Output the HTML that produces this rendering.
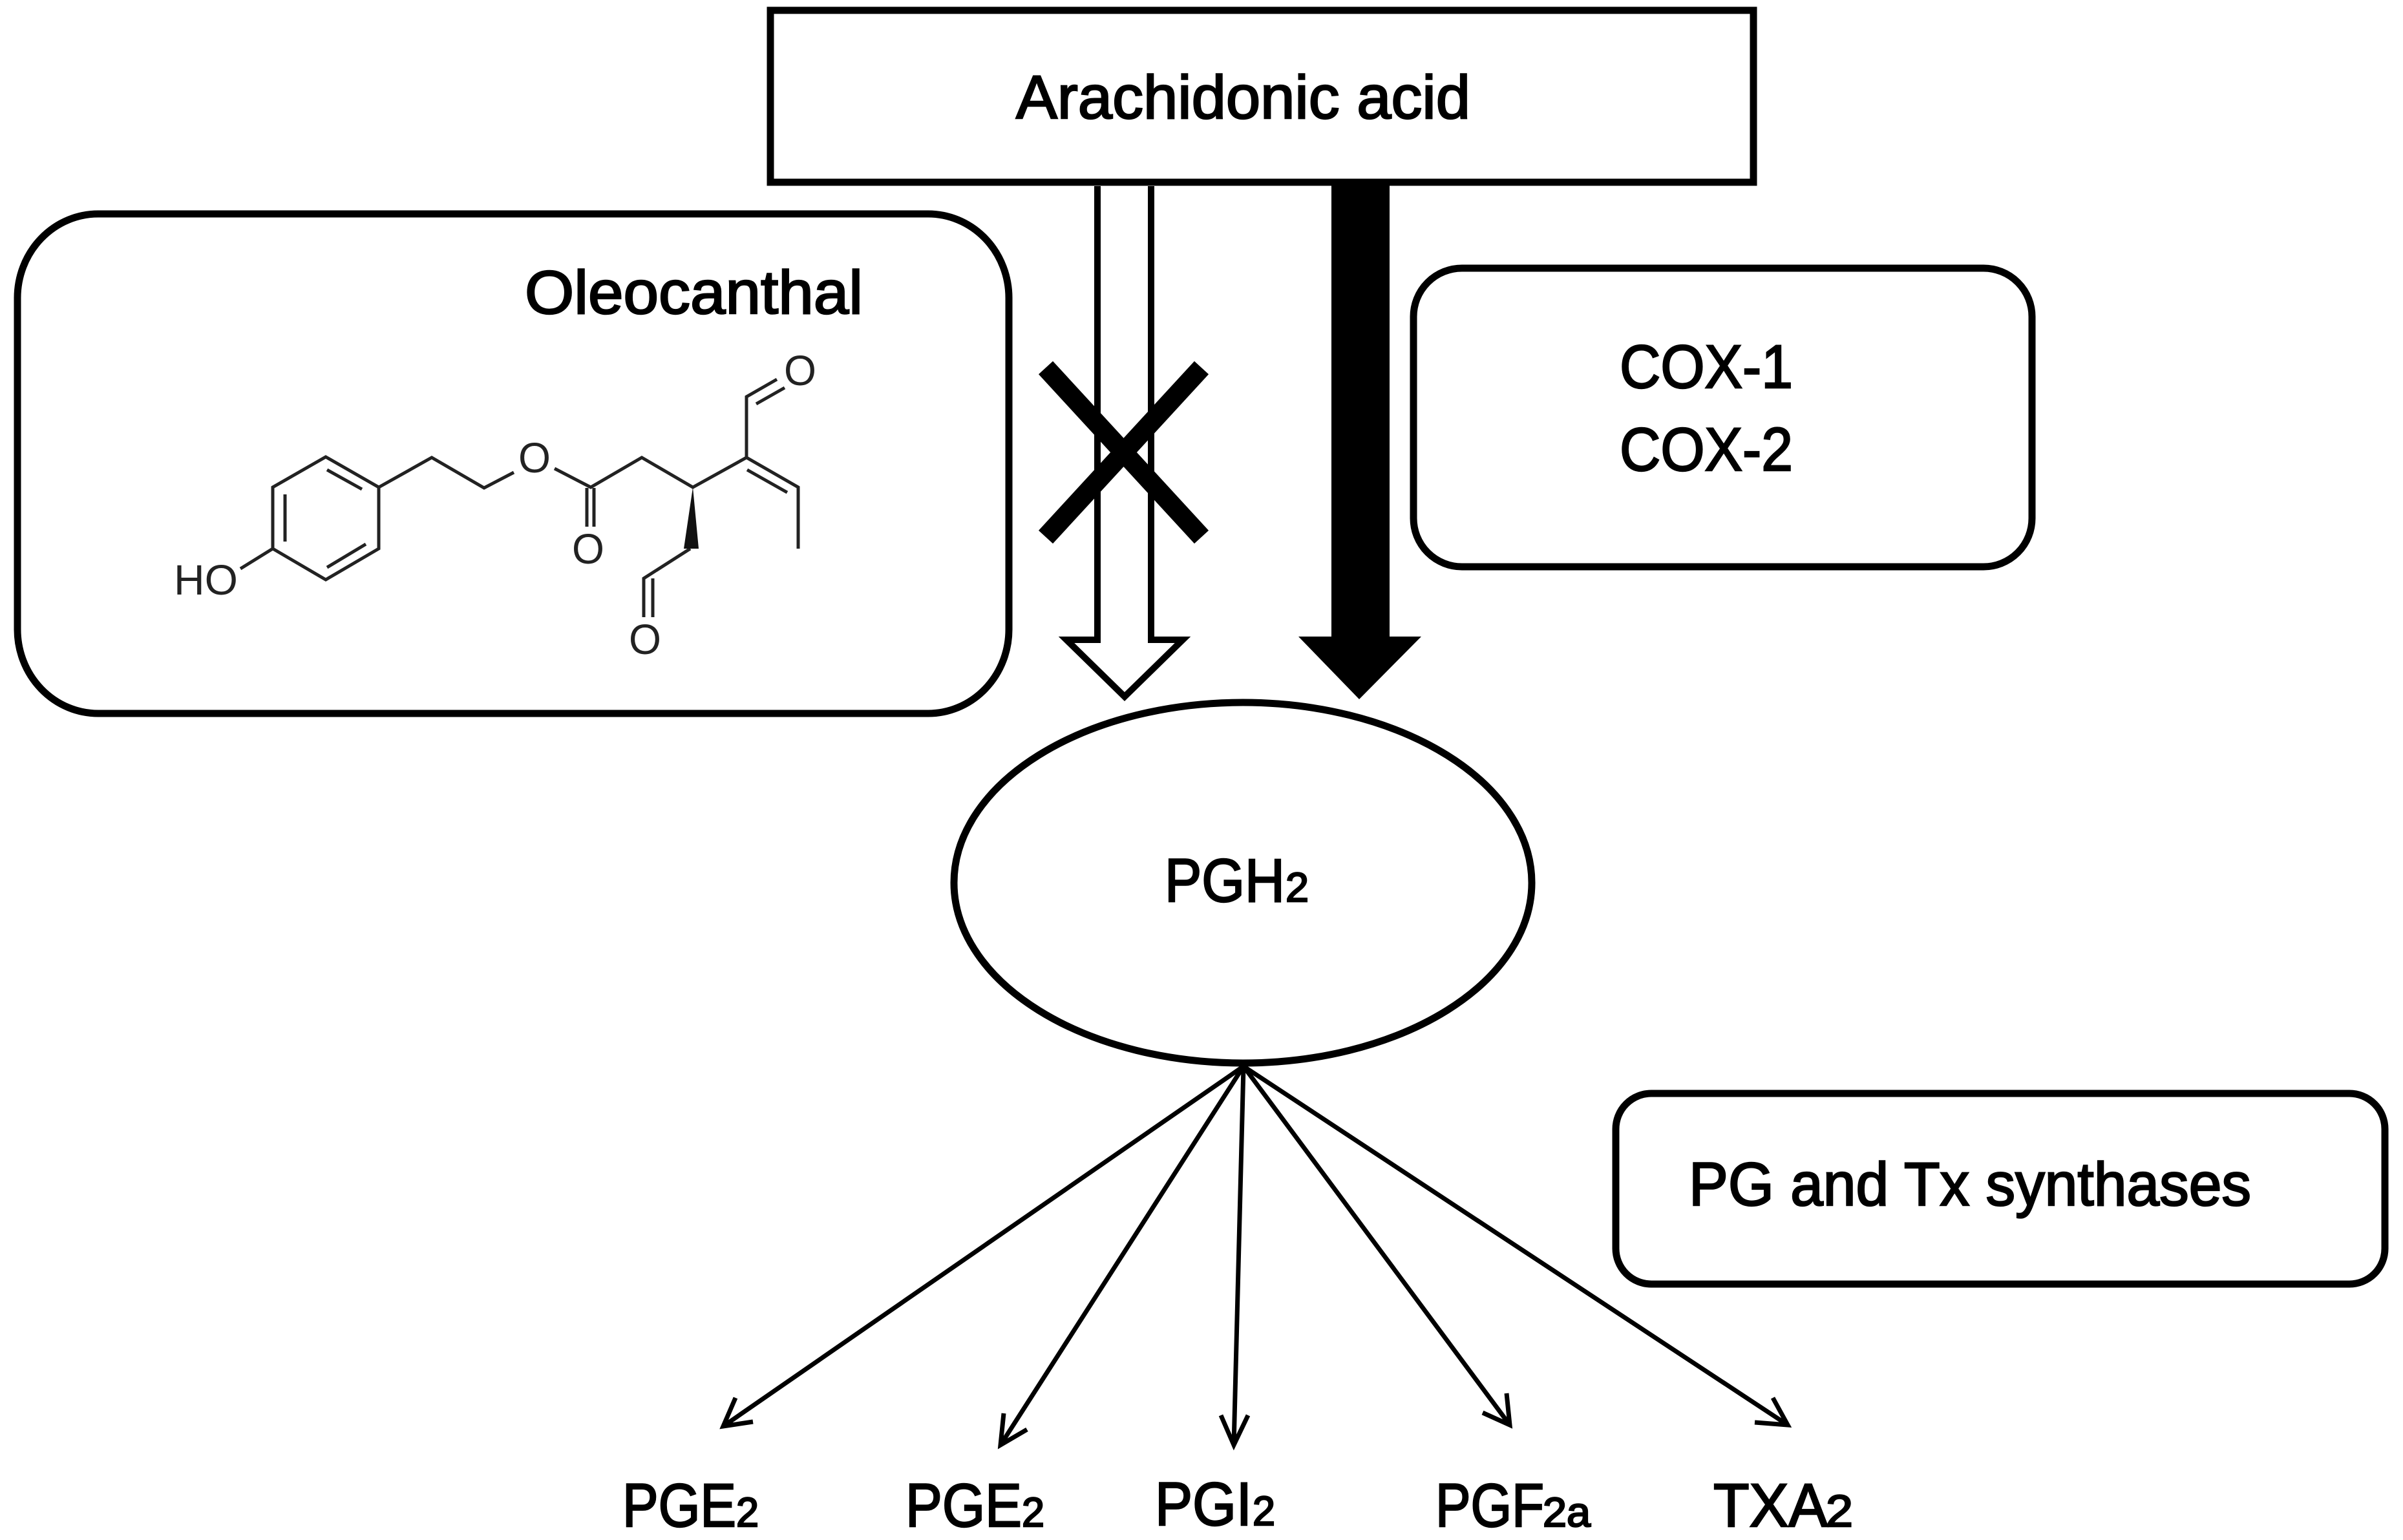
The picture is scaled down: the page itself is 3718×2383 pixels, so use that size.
<!DOCTYPE html>
<html>
<head>
<meta charset="utf-8">
<style>
html,body{margin:0;padding:0;background:#fff;width:3718px;height:2383px;overflow:hidden}
svg{display:block}
text{font-family:"Liberation Sans",sans-serif;fill:#000}
.t{font-size:95px;stroke:#000;stroke-width:2.5px}
.s{font-size:64px;stroke:#000;stroke-width:2.5px}
.m{font-size:66px;fill:#222}
</style>
</head>
<body>
<svg width="3718" height="2383" viewBox="0 0 3718 2383" xmlns="http://www.w3.org/2000/svg">
<rect width="3718" height="2383" fill="#fff"/>

<!-- boxes -->
<rect x="1192" y="16" width="1521" height="266" fill="#fff" stroke="#000" stroke-width="11"/>
<rect x="27" y="331" width="1534" height="773" rx="125" ry="130" fill="#fff" stroke="#000" stroke-width="11"/>
<rect x="2187" y="415" width="957" height="462" rx="75" ry="75" fill="#fff" stroke="#000" stroke-width="11"/>
<rect x="2500" y="1692" width="1190" height="295" rx="55" ry="55" fill="#fff" stroke="#000" stroke-width="11"/>
<ellipse cx="1923" cy="1366" rx="447" ry="279" fill="#fff" stroke="#000" stroke-width="11"/>

<!-- open arrow -->
<path d="M1698 288V990H1650L1740 1078L1830 990H1781V288" fill="#fff" stroke="#000" stroke-width="10" stroke-linejoin="miter"/>
<!-- solid arrow -->
<polygon points="2060,287 2150,287 2150,985 2199,985 2103,1082 2009,985 2060,985" fill="#000"/>
<!-- X -->
<path d="M1618 569L1859 831M1859 569L1618 831" stroke="#000" stroke-width="30" fill="none"/>

<!-- fan arrows -->
<g fill="none" stroke="#000" stroke-width="7">
<path d="M1924 1650L1119 2207M1138 2163L1119 2207L1165 2200"/>
<path d="M1924 1650L1548 2236M1553 2187L1548 2236L1589 2212"/>
<path d="M1924 1650L1909 2236M1889 2190L1909 2236L1931 2190"/>
<path d="M1924 1650L2336 2205M2331 2156L2336 2205L2294 2186"/>
<path d="M1924 1650L2766 2205M2743 2163L2766 2205L2715 2201"/>
</g>

<!-- molecule -->
<g fill="none" stroke="#222" stroke-width="5">
<path d="M504 707L586 754V849L504 897L422 849V754Z"/>
<path d="M506 727L560 757M441 765V838M506 878L566 842"/>
<path d="M586 754L668 708L749 755L795 731"/>
<path d="M858 725L914 754L993 708L1072 754L1155 708L1235 754V849"/>
<path d="M1156 727L1218 762"/>
<path d="M1155 708V614L1202 587M1170 625L1214 600"/>
<path d="M908 755V815M919 755V815"/>
<path d="M1068 849L996 895V955M1010 895V955"/>
<path d="M372 880L422 849"/>
</g>
<polygon points="1072,754 1081,849 1058,849" fill="#111"/>
<text class="m" x="802" y="731" textLength="50" lengthAdjust="spacingAndGlyphs">O</text>
<text class="m" x="885" y="872" textLength="50" lengthAdjust="spacingAndGlyphs">O</text>
<text class="m" x="973" y="1012" textLength="50" lengthAdjust="spacingAndGlyphs">O</text>
<text class="m" x="1213" y="596" textLength="50" lengthAdjust="spacingAndGlyphs">O</text>
<text class="m" x="269" y="920" textLength="99" lengthAdjust="spacingAndGlyphs">HO</text>

<!-- labels -->
<text class="t" x="1572" y="183" textLength="703" lengthAdjust="spacingAndGlyphs">Arachidonic acid</text>
<text class="t" x="812" y="485" textLength="523" lengthAdjust="spacingAndGlyphs">Oleocanthal</text>
<text class="t" x="2506" y="600" textLength="268" lengthAdjust="spacingAndGlyphs">COX-1</text>
<text class="t" x="2506" y="728" textLength="268" lengthAdjust="spacingAndGlyphs">COX-2</text>
<text class="t" x="2613" y="1865" textLength="870" lengthAdjust="spacingAndGlyphs">PG and Tx synthases</text>

<text class="t" x="1802" y="1395" textLength="186" lengthAdjust="spacingAndGlyphs">PGH</text>
<text class="s" x="1989" y="1395" textLength="36" lengthAdjust="spacingAndGlyphs">2</text>

<text class="t" x="963" y="2362" textLength="176" lengthAdjust="spacingAndGlyphs">PGE</text>
<text class="s" x="1139" y="2362" textLength="35" lengthAdjust="spacingAndGlyphs">2</text>

<text class="t" x="1401" y="2362" textLength="180" lengthAdjust="spacingAndGlyphs">PGE</text>
<text class="s" x="1581" y="2362" textLength="35" lengthAdjust="spacingAndGlyphs">2</text>

<text class="t" x="1787" y="2360" textLength="150" lengthAdjust="spacingAndGlyphs">PGI</text>
<text class="s" x="1938" y="2360" textLength="35" lengthAdjust="spacingAndGlyphs">2</text>

<text class="t" x="2221" y="2362" textLength="168" lengthAdjust="spacingAndGlyphs">PGF</text>
<text class="s" x="2387" y="2362" textLength="74" lengthAdjust="spacingAndGlyphs">2a</text>

<text class="t" x="2651" y="2362" textLength="177" lengthAdjust="spacingAndGlyphs">TXA</text>
<text class="s" x="2825" y="2362" textLength="42" lengthAdjust="spacingAndGlyphs" style="font-size:70px">2</text>
</svg>
</body>
</html>
